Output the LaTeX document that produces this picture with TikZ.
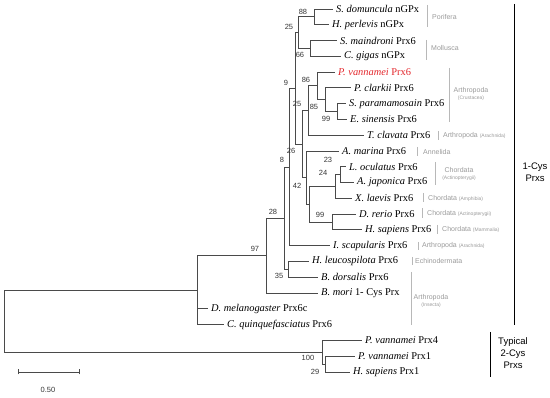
\documentclass[tikz,border=0pt]{standalone}
\usepackage{fontspec}
\setmainfont{Liberation Serif}
\newfontfamily\lsans{Liberation Sans}
\definecolor{br}{HTML}{4A4A4A}
\definecolor{ann}{HTML}{9A9A9A}
\definecolor{gbarc}{HTML}{B8B8B8}
\definecolor{hl}{HTML}{E3262B}
\begin{document}
\begin{tikzpicture}[x=1pt,y=-1pt,
  edge/.style={draw=br, line width=0.85pt},
  taxon/.style={anchor=west, inner xsep=3pt, inner ysep=0pt, font=\fontsize{10.4}{12}\selectfont},
  bs/.style={font=\lsans\fontsize{7.5}{8}\selectfont, text=br!70!black, inner sep=0pt},
  annot/.style={anchor=west, font=\lsans\fontsize{7}{8}\selectfont, text=ann, inner sep=0pt},
  annotc/.style={align=center, font=\lsans\fontsize{7}{6}\selectfont, text=ann, inner sep=0pt},
  gbar/.style={draw=gbarc, line width=0.7pt},
  cbar/.style={draw=black, line width=1pt},
  cys/.style={align=center, font=\lsans\fontsize{9.5}{12}\selectfont, inner sep=0pt}]
\newcommand{\sm}[1]{{\fontsize{5}{6}\selectfont #1}}
\useasboundingbox (0,0) rectangle (550,398);
% leaves
\coordinate (l1) at (333,9);     \node[taxon] (t1) at (l1) {\textit{S. domuncula} nGPx};
\coordinate (l2) at (329,24.8);  \node[taxon] (t2) at (l2) {\textit{H. perlevis} nGPx};
\coordinate (l3) at (337,40.6);  \node[taxon] (t3) at (l3) {\textit{S. maindroni} Prx6};
\coordinate (l4) at (341,56.3);  \node[taxon] (t4) at (l4) {\textit{C. gigas} nGPx};
\coordinate (l5) at (335,72.1);  \node[taxon,text=hl] (t5) at (l5) {\textit{P. vannamei} Prx6};
\coordinate (l6) at (351,87.9);  \node[taxon] (t6) at (l6) {\textit{P. clarkii} Prx6};
\coordinate (l7) at (346,103.7); \node[taxon] (t7) at (l7) {\textit{S. paramamosain} Prx6};
\coordinate (l8) at (347,119.5); \node[taxon] (t8) at (l8) {\textit{E. sinensis} Prx6};
\coordinate (l9) at (364,135.2); \node[taxon] (t9) at (l9) {\textit{T. clavata} Prx6};
\coordinate (l10) at (339,151);  \node[taxon] (t10) at (l10) {\textit{A. marina} Prx6};
\coordinate (l11) at (346,166.8);\node[taxon] (t11) at (l11) {\textit{L. oculatus} Prx6};
\coordinate (l12) at (354,182.6);\node[taxon] (t12) at (l12) {\textit{A. japonica} Prx6};
\coordinate (l13) at (352,198.4);\node[taxon] (t13) at (l13) {\textit{X. laevis} Prx6};
\coordinate (l14) at (356,214.1);\node[taxon] (t14) at (l14) {\textit{D. rerio} Prx6};
\coordinate (l15) at (362,229.9);\node[taxon] (t15) at (l15) {\textit{H. sapiens} Prx6};
\coordinate (l16) at (330,245.7);\node[taxon] (t16) at (l16) {\textit{I. scapularis} Prx6};
\coordinate (l17) at (309,261.5);\node[taxon] (t17) at (l17) {\textit{H. leucospilota} Prx6};
\coordinate (l18) at (318,277.3);\node[taxon] (t18) at (l18) {\textit{B. dorsalis} Prx6};
\coordinate (l19) at (318,293);  \node[taxon] (t19) at (l19) {\textit{B. mori} 1- Cys Prx};
\coordinate (l20) at (208,308.8);\node[taxon] (t20) at (l20) {\textit{D. melanogaster} Prx6c};
\coordinate (l21) at (224,324.6);\node[taxon] (t21) at (l21) {\textit{C. quinquefasciatus} Prx6};
\coordinate (l22) at (362,340.4);\node[taxon] (t22) at (l22) {\textit{P. vannamei} Prx4};
\coordinate (l23) at (355,356.2);\node[taxon] (t23) at (l23) {\textit{P. vannamei} Prx1};
\coordinate (l24) at (350,372);  \node[taxon] (t24) at (l24) {\textit{H. sapiens} Prx1};
% internal nodes
\coordinate (root) at (4,321.1);
\coordinate (nA) at (197,290.1);
\coordinate (n97) at (266,255.6);
\coordinate (n28) at (284,218.2);
\coordinate (n8) at (289,167);
\coordinate (n9) at (295,88.4);
\coordinate (n25t) at (298,32.7);
\coordinate (n88) at (314,16.9);
\coordinate (n66) at (310,48.5);
\coordinate (n26) at (302,144.1);
\coordinate (n25b) at (308,110.6);
\coordinate (n86) at (317,85.9);
\coordinate (n85) at (325,99.7);
\coordinate (n99a) at (337,111.6);
\coordinate (nY) at (306,177.6);
\coordinate (n42) at (309,204.3);
\coordinate (n24) at (335,186.5);
\coordinate (n23) at (340,174.7);
\coordinate (n99b) at (332,222);
\coordinate (n35) at (288,269.4);
\coordinate (n100) at (322,352.2);
\coordinate (n29) at (325,364.1);
% edges
\draw[edge] (root) |- (nA);   \draw[edge] (root) |- (n100);
\draw[edge] (nA) |- (n97);    \draw[edge] (nA) |- (l20);   \draw[edge] (nA) |- (l21);
\draw[edge] (n97) |- (n28);   \draw[edge] (n97) |- (l19);
\draw[edge] (n28) |- (n8);    \draw[edge] (n28) |- (n35);
\draw[edge] (n35) |- (l17);   \draw[edge] (n35) |- (l18);
\draw[edge] (n8) |- (n9);     \draw[edge] (n8) |- (l16);
\draw[edge] (n9) |- (n25t);   \draw[edge] (n9) |- (n26);
\draw[edge] (n25t) |- (n88);  \draw[edge] (n25t) |- (n66);
\draw[edge] (n88) |- (l1);    \draw[edge] (n88) |- (l2);
\draw[edge] (n66) |- (l3);    \draw[edge] (n66) |- (l4);
\draw[edge] (n26) |- (n25b);  \draw[edge] (n26) |- (nY);
\draw[edge] (n25b) |- (n86);  \draw[edge] (n25b) |- (l9);
\draw[edge] (n86) |- (l5);    \draw[edge] (n86) |- (n85);
\draw[edge] (n85) |- (l6);    \draw[edge] (n85) |- (n99a);
\draw[edge] (n99a) |- (l7);   \draw[edge] (n99a) |- (l8);
\draw[edge] (nY) |- (l10);    \draw[edge] (nY) |- (n42);
\draw[edge] (n42) |- (n24);   \draw[edge] (n42) |- (n99b);
\draw[edge] (n24) |- (n23);   \draw[edge] (n24) |- (l13);
\draw[edge] (n23) |- (l11);   \draw[edge] (n23) |- (l12);
\draw[edge] (n99b) |- (l14);  \draw[edge] (n99b) |- (l15);
\draw[edge] (n100) |- (l22);  \draw[edge] (n100) |- (n29);
\draw[edge] (n29) |- (l23);   \draw[edge] (n29) |- (l24);
% bootstrap values
\node[bs] (b88) at (303,12) {88};
\node[bs] (b25t) at (289,27) {25};
\node[bs] (b66) at (300,55) {66};
\node[bs] (b9) at (286,83) {9};
\node[bs] (b86) at (306,80) {86};
\node[bs] (b25b) at (297,104) {25};
\node[bs] (b85) at (314,107) {85};
\node[bs] (b99a) at (326,119) {99};
\node[bs] (b26) at (291,151) {26};
\node[bs] (b8) at (282,160) {8};
\node[bs] (b23) at (328,160) {23};
\node[bs] (b24) at (323,173) {24};
\node[bs] (b42) at (297,186) {42};
\node[bs] (b99b) at (320,215) {99};
\node[bs] (b28) at (273,212) {28};
\node[bs] (b97) at (255,249) {97};
\node[bs] (b35) at (279,276) {35};
\node[bs] (b100) at (308,358) {100};
\node[bs] (b29) at (315,372) {29};
% group annotations
\coordinate (g1a) at (427,5);   \coordinate (g1b) at (427,27);  \draw[gbar] (g1a) -- (g1b);
\node[annot] (a1) at (432,17) {Porifera};
\coordinate (g2a) at (426,40);  \coordinate (g2b) at (426,60);  \draw[gbar] (g2a) -- (g2b);
\node[annot] (a2) at (431,48) {Mollusca};
\coordinate (g3a) at (449,68);  \coordinate (g3b) at (449,122); \draw[gbar] (g3a) -- (g3b);
\node[annotc] (a3) at (471,94) {Arthropoda\\[1pt]\sm{(Crustacea)}};
\coordinate (g4a) at (438,131); \coordinate (g4b) at (438,140); \draw[gbar] (g4a) -- (g4b);
\node[annot] (a4) at (443,136) {Arthropoda \sm{(Arachnida)}};
\coordinate (g5a) at (417,147); \coordinate (g5b) at (417,156); \draw[gbar] (g5a) -- (g5b);
\node[annot] (a5) at (423,152) {Annelida};
\coordinate (g6a) at (435,162); \coordinate (g6b) at (435,185); \draw[gbar] (g6a) -- (g6b);
\node[annotc] (a6) at (459,174) {Chordata\\[1pt]\sm{(Actinopterygii)}};
\coordinate (g7a) at (423,193); \coordinate (g7b) at (423,202); \draw[gbar] (g7a) -- (g7b);
\node[annot] (a7) at (428,198) {Chordata \sm{(Amphibia)}};
\coordinate (g8a) at (422,208); \coordinate (g8b) at (422,218); \draw[gbar] (g8a) -- (g8b);
\node[annot] (a8) at (427,213) {Chordata \sm{(Actinopterygii)}};
\coordinate (g9a) at (437,225); \coordinate (g9b) at (437,234); \draw[gbar] (g9a) -- (g9b);
\node[annot] (a9) at (442,229) {Chordata \sm{(Mammalia)}};
\coordinate (g10a) at (418,242);\coordinate (g10b) at (418,250);\draw[gbar] (g10a) -- (g10b);
\node[annot] (a10) at (422,246) {Arthropoda \sm{(Arachnida)}};
\coordinate (g11a) at (412,257);\coordinate (g11b) at (412,265);\draw[gbar] (g11a) -- (g11b);
\node[annot] (a11) at (415,261) {Echinodermata};
\coordinate (g12a) at (411,272);\coordinate (g12b) at (411,325);\draw[gbar] (g12a) -- (g12b);
\node[annotc] (a12) at (431,301) {Arthropoda\\[1pt]\sm{(Insecta)}};
% class bars
\coordinate (c1a) at (514,4);   \coordinate (c1b) at (514,325); \draw[cbar] (c1a) -- (c1b);
\node[cys] (k1) at (535,172) {1-Cys\\Prxs};
\coordinate (c2a) at (490,332); \coordinate (c2b) at (490,377); \draw[cbar] (c2a) -- (c2b);
\node[cys] (k2) at (513,353) {Typical\\2-Cys\\Prxs};
% scale bar
\coordinate (s1) at (18,372); \coordinate (s2) at (79,372);
\draw[edge] (s1) -- (s2);
\draw[edge] ([yshift=-2.5pt]s1) -- ([yshift=2.5pt]s1);
\draw[edge] ([yshift=-2.5pt]s2) -- ([yshift=2.5pt]s2);
\node[bs] (sl) at (48,390) {0.50};
\end{tikzpicture}
\end{document}
